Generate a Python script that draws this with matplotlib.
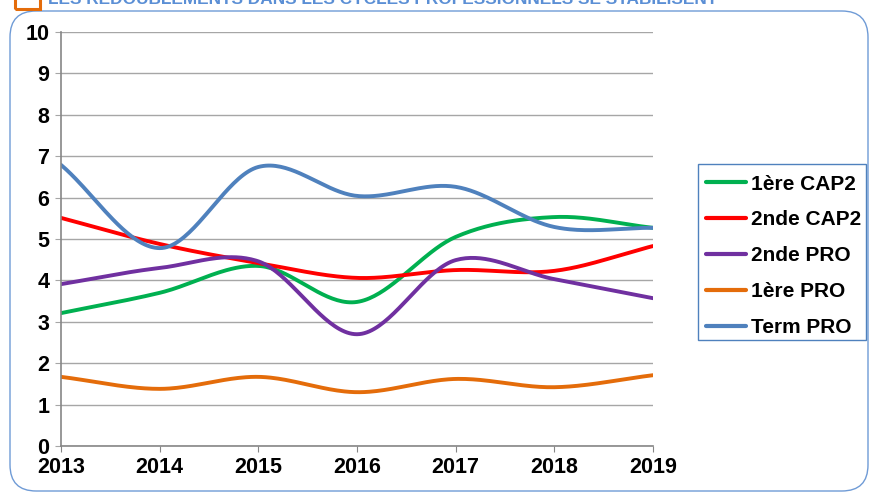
import numpy as np
import matplotlib
matplotlib.use("Agg")
import matplotlib.pyplot as plt
from matplotlib.patches import FancyBboxPatch, Rectangle

years = [2013, 2014, 2015, 2016, 2017, 2018, 2019]
cap2_1ere = [3.21, 3.70, 4.35, 3.48, 5.05, 5.53, 5.27]
cap2_2nde = [5.51, 4.88, 4.42, 4.06, 4.25, 4.23, 4.83]
pro_2nde = [3.91, 4.30, 4.46, 2.70, 4.49, 4.03, 3.57]
pro_1ere = [1.67, 1.38, 1.67, 1.30, 1.62, 1.42, 1.71]
pro_term = [6.79, 4.78, 6.74, 6.04, 6.26, 5.29, 5.27]

series_names = ["1ère CAP2", "2nde CAP2", "2nde PRO", "1ère PRO", "Term PRO"]
series_vals = [cap2_1ere, cap2_2nde, pro_2nde, pro_1ere, pro_term]
colors = ["#00b050", "#ff0000", "#7030a0", "#e46c0a", "#4f81bd"]
title = "LES REDOUBLEMENTS DANS LES CYCLES PROFESSIONNELS SE STABILISENT"

plt.rcParams['font.family'] = ['Liberation Sans', 'DejaVu Sans']


def smooth(x, y, n=40):
    x = np.asarray(x, float)
    y = np.asarray(y, float)
    m = np.zeros_like(y)
    m[1:-1] = (y[2:] - y[:-2]) / (x[2:] - x[:-2])
    m[0] = (y[1] - y[0]) / (x[1] - x[0])
    m[-1] = (y[-1] - y[-2]) / (x[-1] - x[-2])
    xs, ys = [], []
    for i in range(len(x) - 1):
        h = x[i + 1] - x[i]
        t = np.linspace(0, 1, n, endpoint=(i == len(x) - 2))
        h00 = 2 * t**3 - 3 * t**2 + 1
        h10 = t**3 - 2 * t**2 + t
        h01 = -2 * t**3 + 3 * t**2
        h11 = t**3 - t**2
        xs.append(x[i] + t * h)
        ys.append(h00 * y[i] + h10 * h * m[i] + h01 * y[i + 1] + h11 * h * m[i + 1])
    return np.concatenate(xs), np.concatenate(ys)


W, H = 872, 492
fig = plt.figure(figsize=(W / 100, H / 100), dpi=100)

# outer rounded frame
frame = FancyBboxPatch((10 / W, 1 / H), 858 / W, (491 - 11) / H,
                       boxstyle="round,pad=0,rounding_size=0.03",
                       transform=fig.transFigure, fill=False,
                       edgecolor="#6f9bd6", linewidth=1.0, mutation_aspect=W / H)
fig.patches.append(frame)

# orange title marker (cut at top)
fig.patches.append(Rectangle((15 / W, 1 - 9 / H), 25 / W, 20 / H,
                             transform=fig.transFigure, fill=False,
                             edgecolor="#e46c0a", linewidth=2.2))
fig.text(48 / W, 1 - 3.5 / H, title, color="#5b8fd5", fontsize=12.4,
         fontweight="bold", va="baseline", ha="left")

ax = fig.add_axes([61 / W, 1 - 446 / H, (653 - 61) / W, (446 - 32) / H])
for name, vals, c in zip(series_names, series_vals, colors):
    xs, ys = smooth(years, vals)
    ax.plot(xs, ys, color=c, linewidth=2.8, label=name, solid_capstyle="round")

ax.set_xlim(years[0], years[-1])
ax.set_ylim(0, 10)
ax.set_yticks(range(0, 11))
ax.set_xticks(years)
ax.grid(axis="y", color="#a6a6a6", linewidth=1)
ax.set_axisbelow(True)
for s in ["top", "right"]:
    ax.spines[s].set_visible(False)
for s in ["left", "bottom"]:
    ax.spines[s].set_color("#868686")
    ax.spines[s].set_linewidth(1.2)
ax.tick_params(axis="y", length=4.5, direction="out", color="#a6a6a6", pad=4, labelsize=15.5)
ax.tick_params(axis="x", length=4, direction="out", color="#868686", pad=4, labelsize=15.5)
for lab in ax.get_xticklabels() + ax.get_yticklabels():
    lab.set_fontweight("bold")

# legend box
fig.patches.append(Rectangle((698 / W, 1 - 340 / H), 168 / W, 176 / H,
                             transform=fig.transFigure, fill=False,
                             edgecolor="#4f81bd", linewidth=1.0))
leg = fig.legend(loc="upper left", bbox_to_anchor=(706 / W, 1 - 174.5 / H),
                 frameon=False, prop={"weight": "bold", "size": 15},
                 handlelength=1.9, handletextpad=0.25, labelspacing=0.81,
                 borderpad=0, borderaxespad=0)
for h in leg.legend_handles:
    h.set_linewidth(3)

fig.savefig("out.png", dpi=100)
